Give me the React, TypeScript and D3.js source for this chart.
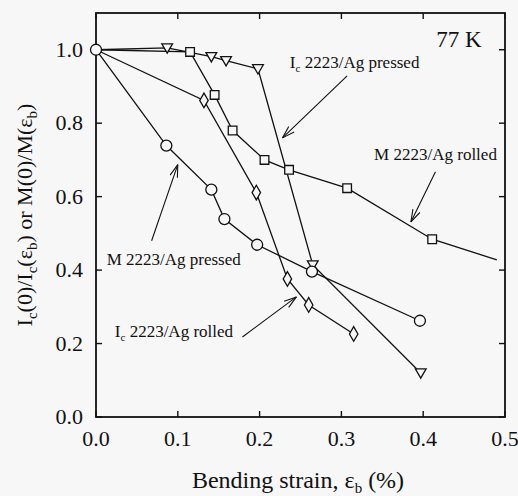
import * as d3 from "d3";

const W = 518;
const H = 496;
const margin = { left: 96, right: 13, top: 13, bottom: 79 };

// Ic 2223/Ag pressed (down triangles)
const icPressedX = [0, 0.087, 0.141, 0.159, 0.198, 0.265, 0.397];
const icPressedY = [1.0, 1.005, 0.981, 0.97, 0.948, 0.414, 0.12];
// M 2223/Ag rolled (squares), the line runs on past the last marker
const mRolledX = [0, 0.115, 0.145, 0.167, 0.206, 0.236, 0.307, 0.411];
const mRolledY = [1.0, 0.994, 0.877, 0.78, 0.7, 0.673, 0.623, 0.484];
const mRolledTail = [0.49, 0.428];
// M 2223/Ag pressed (circles)
const mPressedX = [0, 0.086, 0.141, 0.157, 0.197, 0.264, 0.396];
const mPressedY = [1.0, 0.739, 0.619, 0.539, 0.469, 0.396, 0.262];
// Ic 2223/Ag rolled (diamonds)
const icRolledX = [0, 0.132, 0.196, 0.234, 0.26, 0.315];
const icRolledY = [1.0, 0.862, 0.611, 0.376, 0.305, 0.226];

const xTicks = [0, 0.1, 0.2, 0.3, 0.4, 0.5];
const yTicks = [0, 0.2, 0.4, 0.6, 0.8, 1.0];

// labels: text start, arrow from, arrow to (data units)
const notes = [
  { main: "I", sub: "c", rest: " 2223/Ag pressed", at: [0.237, 0.951], from: [0.307, 0.929], to: [0.228, 0.76] },
  { main: "M 2223/Ag rolled", sub: "", rest: "", at: [0.34, 0.7], from: [0.415, 0.668], to: [0.385, 0.531] },
  { main: "M 2223/Ag pressed", sub: "", rest: "", at: [0.013, 0.414], from: [0.068, 0.48], to: [0.1, 0.687] },
  { main: "I", sub: "c", rest: " 2223/Ag rolled", at: [0.023, 0.218], from: [0.179, 0.218], to: [0.245, 0.327] },
];

const serif = { fontFamily: "Liberation Serif" };
const ink = "#111";
const bg = "#f7f7f7";

function zip(xs: number[], ys: number[]): [number, number][] {
  return xs.map((x, i) => [x, ys[i]]);
}

export default function App() {
  const x = d3.scaleLinear().domain([0, 0.5]).range([margin.left, W - margin.right]);
  const y = d3.scaleLinear().domain([0, 1.1]).range([H - margin.bottom, margin.top]);
  const line = d3
    .line<[number, number]>()
    .x((d) => x(d[0]))
    .y((d) => y(d[1]));

  const tri = d3.symbol().type(d3.symbolTriangle).size(50)();
  const sq = d3.symbol().type(d3.symbolSquare).size(75)();
  const dia = d3.symbol().type(d3.symbolDiamond).size(62)();

  const icP = zip(icPressedX, icPressedY);
  const mR = zip(mRolledX, mRolledY);
  const mP = zip(mPressedX, mPressedY);
  const icR = zip(icRolledX, icRolledY);

  const x0 = x(0), x1 = x(0.5), y0 = y(0), y1 = y(1.1);

  const arrow = (from: number[], to: number[], k: number) => {
    const fx = x(from[0]), fy = y(from[1]), tx = x(to[0]), ty = y(to[1]);
    const ang = Math.atan2(fy - ty, fx - tx);
    const len = 13;
    const barbs = [0.3, -0.3].map((a) => [tx + len * Math.cos(ang + a), ty + len * Math.sin(ang + a)]);
    return (
      <g key={"a" + k} stroke={ink} strokeWidth={1.1} fill="none">
        <line x1={fx} y1={fy} x2={tx} y2={ty} />
        {barbs.map((b, i) => (
          <line key={i} x1={tx} y1={ty} x2={b[0]} y2={b[1]} />
        ))}
      </g>
    );
  };

  return (
    <svg width={W} height={H} style={{ position: "absolute", left: 0, top: 0 }}>
      <rect width={W} height={H} fill={bg} />

      {/* frame and ticks */}
      <rect x={x0} y={y1} width={x1 - x0} height={y0 - y1} fill="none" stroke={ink} strokeWidth={1.8} />
      {xTicks.map((t) => (
        <g key={"x" + t}>
          <line x1={x(t)} x2={x(t)} y1={y0} y2={y0 - 6} stroke={ink} strokeWidth={1.4} />
          <line x1={x(t)} x2={x(t)} y1={y1} y2={y1 + 6} stroke={ink} strokeWidth={1.4} />
          <text x={x(t)} y={y0 + 29} textAnchor="middle" fontSize={22} fill={ink} style={serif}>
            {t.toFixed(1)}
          </text>
        </g>
      ))}
      {yTicks.map((t) => (
        <g key={"y" + t}>
          <line x1={x0} x2={x0 + 6} y1={y(t)} y2={y(t)} stroke={ink} strokeWidth={1.4} />
          <line x1={x1} x2={x1 - 6} y1={y(t)} y2={y(t)} stroke={ink} strokeWidth={1.4} />
          <text x={x0 - 13} y={y(t) + 7} textAnchor="end" fontSize={22} fill={ink} style={serif}>
            {t.toFixed(1)}
          </text>
        </g>
      ))}

      {/* axis titles */}
      <text x={298} y={H - 8} textAnchor="middle" fontSize={24} fill={ink} style={serif}>
        Bending strain, ε<tspan fontSize={15} dy={5}>b</tspan>
        <tspan dy={-5}> (%)</tspan>
      </text>
      <text
        transform={`translate(32,${(y0 + y1) / 2}) rotate(-90)`}
        textAnchor="middle"
        fontSize={22}
        fill={ink}
        style={serif}
      >
        I<tspan fontSize={15} dy={5}>c</tspan>
        <tspan dy={-5}>(0)/I</tspan>
        <tspan fontSize={15} dy={5}>c</tspan>
        <tspan dy={-5}>(ε</tspan>
        <tspan fontSize={15} dy={5}>b</tspan>
        <tspan dy={-5}>) or M(0)/M(ε</tspan>
        <tspan fontSize={15} dy={5}>b</tspan>
        <tspan dy={-5}>)</tspan>
      </text>

      {/* series lines */}
      <g fill="none" stroke={ink} strokeWidth={1.3}>
        <path d={line(icP) ?? ""} />
        <path d={line([...mR, [mRolledTail[0], mRolledTail[1]]]) ?? ""} />
        <path d={line(mP) ?? ""} />
        <path d={line(icR) ?? ""} />
      </g>

      {/* markers */}
      <g fill={bg} stroke={ink} strokeWidth={1.3}>
        {icR.slice(1).map((d, i) => (
          <path key={"d" + i} d={dia ?? ""} transform={`translate(${x(d[0])},${y(d[1])})`} />
        ))}
        {mR.slice(1).map((d, i) => (
          <path key={"s" + i} d={sq ?? ""} transform={`translate(${x(d[0])},${y(d[1])})`} />
        ))}
        {icP.slice(1).map((d, i) => (
          <path key={"t" + i} d={tri ?? ""} transform={`translate(${x(d[0])},${y(d[1]) - 1}) rotate(180)`} />
        ))}
        {mP.map((d, i) => (
          <circle key={"c" + i} cx={x(d[0])} cy={y(d[1])} r={5.5} />
        ))}
      </g>

      {/* annotations */}
      <text x={x(0.416)} y={y(1.008)} fontSize={23} fill={ink} style={serif}>
        77 K
      </text>
      {notes.map((n, k) => (
        <g key={"n" + k}>
          <text x={x(n.at[0])} y={y(n.at[1])} fontSize={17} fill={ink} style={serif}>
            {n.main}
            {n.sub && (
              <tspan fontSize={11} dy={4}>
                {n.sub}
              </tspan>
            )}
            {n.sub && <tspan dy={-4}>{n.rest}</tspan>}
          </text>
          {arrow(n.from, n.to, k)}
        </g>
      ))}
    </svg>
  );
}
